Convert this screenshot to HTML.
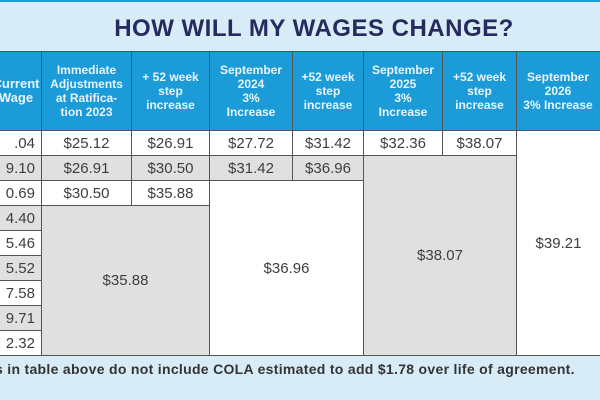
<!DOCTYPE html>
<html><head><style>
body{margin:0;width:600px;height:400px;overflow:hidden;background:#d8ecf8;font-family:"Liberation Sans",sans-serif;position:relative}
.c{position:absolute;box-sizing:border-box;border:1px solid #555;display:flex;align-items:center;justify-content:center;text-align:center;color:#3e3e3e;font-size:15px}
.h{background:#1b9bd7;color:#e8f5fc;font-weight:bold;font-size:12px;line-height:14px}
.w{background:#fff}.g{background:#e0e0e0}
</style></head><body>
<div style="position:absolute;left:0;top:0;width:600px;height:2px;background:#1b9bd7"></div>
<div style="position:absolute;left:0;top:15px;width:600px;text-align:center;font-weight:bold;font-size:24px;color:#262a5e;letter-spacing:0.5px;padding-left:28px;box-sizing:border-box">HOW WILL MY WAGES CHANGE?</div>
<div style="position:absolute;left:0;top:51px;width:600px;height:305px;background:#fff"></div>
<div class="c h" style="left:-60px;top:51px;width:102px;height:80px;padding-left:50px;font-size:13px">Current<br>Wage</div>
<div class="c h" style="left:41px;top:51px;width:91px;height:80px">Immediate<br>Adjustments<br>at Ratifica-<br>tion 2023</div>
<div class="c h" style="left:131px;top:51px;width:79px;height:80px">+ 52 week<br>step<br>increase</div>
<div class="c h" style="left:209px;top:51px;width:84px;height:80px">September<br>2024<br>3%<br>Increase</div>
<div class="c h" style="left:292px;top:51px;width:72px;height:80px">+52 week<br>step<br>increase</div>
<div class="c h" style="left:363px;top:51px;width:80px;height:80px">September<br>2025<br>3%<br>Increase</div>
<div class="c h" style="left:442px;top:51px;width:75px;height:80px">+52 week<br>step<br>increase</div>
<div class="c h" style="left:516px;top:51px;width:100px;height:80px;padding-right:16px">September<br>2026<br>3% Increase</div>

<div class="c w" style="left:-60px;top:130px;width:102px;height:26px;justify-content:flex-end;padding-right:6px">.04</div>
<div class="c g" style="left:-60px;top:155px;width:102px;height:26px;justify-content:flex-end;padding-right:6px">9.10</div>
<div class="c w" style="left:-60px;top:180px;width:102px;height:26px;justify-content:flex-end;padding-right:6px">0.69</div>
<div class="c g" style="left:-60px;top:205px;width:102px;height:26px;justify-content:flex-end;padding-right:6px">4.40</div>
<div class="c w" style="left:-60px;top:230px;width:102px;height:26px;justify-content:flex-end;padding-right:6px">5.46</div>
<div class="c g" style="left:-60px;top:255px;width:102px;height:26px;justify-content:flex-end;padding-right:6px">5.52</div>
<div class="c w" style="left:-60px;top:280px;width:102px;height:26px;justify-content:flex-end;padding-right:6px">7.58</div>
<div class="c g" style="left:-60px;top:305px;width:102px;height:26px;justify-content:flex-end;padding-right:6px">9.71</div>
<div class="c w" style="left:-60px;top:330px;width:102px;height:26px;justify-content:flex-end;padding-right:6px">2.32</div>

<div class="c w" style="left:41px;top:130px;width:91px;height:26px">$25.12</div>
<div class="c w" style="left:131px;top:130px;width:79px;height:26px">$26.91</div>
<div class="c w" style="left:209px;top:130px;width:84px;height:26px">$27.72</div>
<div class="c w" style="left:292px;top:130px;width:72px;height:26px">$31.42</div>
<div class="c w" style="left:363px;top:130px;width:80px;height:26px">$32.36</div>
<div class="c w" style="left:442px;top:130px;width:75px;height:26px">$38.07</div>
<div class="c w" style="left:516px;top:130px;width:100px;height:226px;padding-right:16px;border-right:none">$39.21</div>

<div class="c g" style="left:41px;top:155px;width:91px;height:26px">$26.91</div>
<div class="c g" style="left:131px;top:155px;width:79px;height:26px">$30.50</div>
<div class="c g" style="left:209px;top:155px;width:84px;height:26px">$31.42</div>
<div class="c g" style="left:292px;top:155px;width:72px;height:26px">$36.96</div>
<div class="c g" style="left:363px;top:155px;width:154px;height:201px">$38.07</div>

<div class="c w" style="left:41px;top:180px;width:91px;height:26px">$30.50</div>
<div class="c w" style="left:131px;top:180px;width:79px;height:26px">$35.88</div>
<div class="c w" style="left:209px;top:180px;width:155px;height:176px">$36.96</div>
<div class="c g" style="left:41px;top:205px;width:169px;height:151px">$35.88</div>

<div style="position:absolute;left:0;top:361px;width:600px;font-weight:bold;font-size:14px;letter-spacing:0.3px;color:#333;white-space:nowrap;text-indent:-5px">s in table above do not include COLA estimated to add $1.78 over life of agreement.</div>
</body></html>
